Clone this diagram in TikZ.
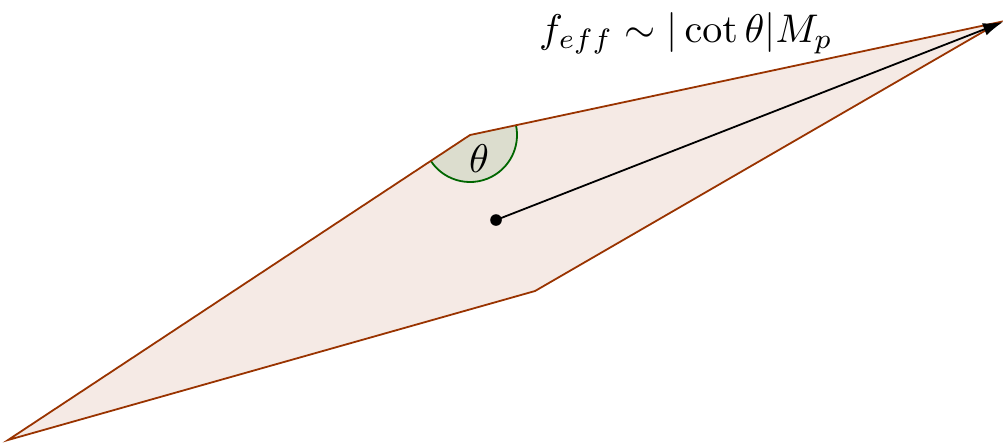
\documentclass[tikz,border=0pt]{standalone}
\usetikzlibrary{arrows.meta}
\definecolor{edgecol}{RGB}{153,51,0}
\definecolor{anglecol}{RGB}{0,102,0}
\tikzset{
  region/.style={fill=edgecol, fill opacity=0.1},
  edge/.style={draw=edgecol, line width=0.45pt, line join=miter},
  anglefill/.style={fill=anglecol, fill opacity=0.1},
  anglearc/.style={draw=anglecol, line width=0.45pt},
  vec/.style={draw=black, line width=0.45pt, -{Latex[length=5pt,width=3.2pt]}},
  dot/.style={circle, fill=black, inner sep=0pt, minimum size=2.9pt},
  lbl/.style={inner sep=0pt, font=\normalsize}
}
\begin{document}
\begin{tikzpicture}[x=0.25pt,y=0.25pt]
\useasboundingbox (0,0) rectangle (1003,444);
\coordinate (A) at (8,4);
\coordinate (B) at (470,309);
\coordinate (C) at (1000,422);
\coordinate (D) at (535,153);
\fill[region] (A) -- (B) -- (C) -- (D) -- cycle;
\fill[anglefill] (B) -- ++(213.4:47) arc[start angle=213.4, end angle=372, radius=47] -- cycle;
\draw[anglearc] (B) ++(213.4:47) arc[start angle=213.4, end angle=372, radius=47];
\draw[edge] (A) -- (B) -- (C) -- (D) -- cycle;
\node[dot] (O) at (496,224) {};
\coordinate (T) at (1003,422);
\draw[vec] (O.center) -- (T);
\node[lbl] (th) at (479,285) {$\theta$};
\node[lbl] (f) at (686,411) {$f_{eff} \sim |\cot\theta|M_p$};
\end{tikzpicture}
\end{document}
